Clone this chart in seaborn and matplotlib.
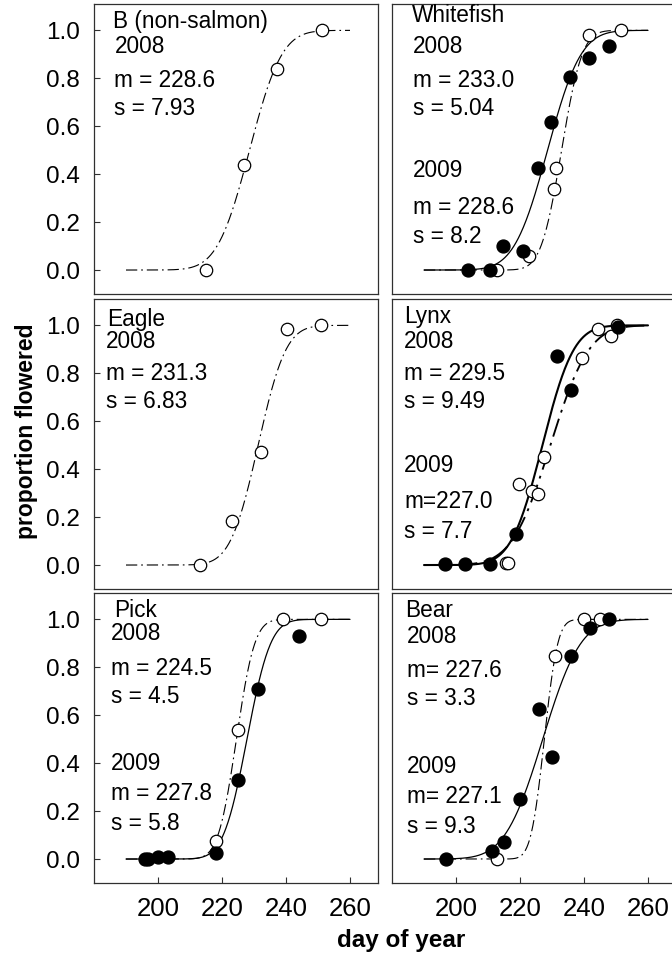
import math
import numpy as np
import pandas as pd
import matplotlib
matplotlib.use("Agg")
import matplotlib.pyplot as plt
import seaborn as sns

# ---- observed cumulative flowering (day of year, proportion flowered) ----
b_2008_day = [215.0, 226.9, 237.1, 251.1]
b_2008_prop = [0.0, 0.44, 0.837, 1.0]

whitefish_2008_day = [212.7, 222.9, 230.6, 231.3, 241.7, 251.5]
whitefish_2008_prop = [0.0, 0.057, 0.34, 0.426, 0.98, 1.0]
whitefish_2009_day = [203.9, 210.6, 214.8, 220.8, 225.7, 229.7, 235.6, 241.7, 247.9]
whitefish_2009_prop = [0.0, 0.0, 0.099, 0.078, 0.426, 0.618, 0.806, 0.886, 0.935]

eagle_2008_day = [213.1, 223.0, 232.1, 240.2, 250.9]
eagle_2008_prop = [0.0, 0.185, 0.47, 0.985, 1.0]

lynx_2008_day = [215.6, 216.3, 219.8, 223.7, 225.7, 227.6, 239.3, 244.5, 248.4, 250.4]
lynx_2008_prop = [0.01, 0.01, 0.34, 0.31, 0.296, 0.449, 0.865, 0.983, 0.955, 1.0]
lynx_2009_day = [196.6, 202.8, 210.6, 218.75, 231.5, 235.8, 250.7]
lynx_2009_prop = [0.005, 0.005, 0.005, 0.129, 0.872, 0.73, 0.995]

pick_2008_day = [218.1, 225.1, 239.0, 250.8]
pick_2008_prop = [0.076, 0.537, 1.0, 1.0]
pick_2009_day = [196.0, 197.0, 199.9, 203.2, 218.0, 225.1, 231.4, 244.1]
pick_2009_prop = [0.0, 0.0, 0.008, 0.01, 0.024, 0.33, 0.71, 0.93]

bear_2008_day = [212.9, 230.9, 240.0, 245.0]
bear_2008_prop = [0.0, 0.847, 1.0, 1.0]
bear_2009_day = [196.9, 211.1, 215.0, 220.0, 226.0, 229.9, 235.8, 241.9, 247.9]
bear_2009_prop = [0.0, 0.033, 0.072, 0.249, 0.624, 0.424, 0.847, 0.965, 1.0]

# ---- fitted cumulative-normal parameters (mean day m, spread s) ----
sites = ["B (non-salmon)", "Whitefish", "Eagle", "Lynx", "Pick", "Bear"]
fit_2008_m = [228.6, 233.0, 231.3, 229.5, 224.5, 227.6]
fit_2008_s = [7.93, 5.04, 6.83, 9.49, 4.5, 3.3]
fit_2009_m = [None, 228.6, None, 227.0, 227.8, 227.1]
fit_2009_s = [None, 8.2, None, 7.7, 5.8, 9.3]

label_2008_m = ["m = 228.6", "m = 233.0", "m = 231.3", "m = 229.5", "m = 224.5", "m= 227.6"]
label_2008_s = ["s = 7.93", "s = 5.04", "s = 6.83", "s = 9.49", "s = 4.5", "s = 3.3"]
label_2009_m = [None, "m = 228.6", None, "m=227.0", "m = 227.8", "m= 227.1"]
label_2009_s = [None, "s = 8.2", None, "s = 7.7", "s = 5.8", "s = 9.3"]

y_ticks = [0.0, 0.2, 0.4, 0.6, 0.8, 1.0]
y_ticklabels = ["0.0", "0.2", "0.4", "0.6", "0.8", "1.0"]
x_ticks = [200, 220, 240, 260]
x_ticklabels = ["200", "220", "240", "260"]

obs_2008 = [(b_2008_day, b_2008_prop), (whitefish_2008_day, whitefish_2008_prop),
            (eagle_2008_day, eagle_2008_prop), (lynx_2008_day, lynx_2008_prop),
            (pick_2008_day, pick_2008_prop), (bear_2008_day, bear_2008_prop)]
obs_2009 = [None, (whitefish_2009_day, whitefish_2009_prop), None,
            (lynx_2009_day, lynx_2009_prop), (pick_2009_day, pick_2009_prop),
            (bear_2009_day, bear_2009_prop)]

# ---- style ----
sns.set_theme(style="white")
plt.rcParams["font.family"] = ["Liberation Sans", "DejaVu Sans"]
plt.rcParams["axes.edgecolor"] = "#303030"
plt.rcParams["axes.linewidth"] = 0.9
plt.rcParams["xtick.color"] = "#303030"
plt.rcParams["ytick.color"] = "#303030"
plt.rcParams["xtick.labelcolor"] = "black"
plt.rcParams["ytick.labelcolor"] = "black"
plt.rcParams["text.color"] = "black"

W, H = 672, 957
fig = plt.figure(figsize=(W / 100, H / 100), dpi=100)

col_left = [94, 392]
col_width = 284
row_top = [4, 299, 593]
row_height = 290

# label line positions in figure pixels (x, baseline y)
text_pos = [
    [(113, 28), (115, 53), (114, 87), (114, 115)],
    [(412, 22), (413, 53), (413, 87), (413, 115), (413, 177), (413, 214), (413, 243)],
    [(107, 326), (106, 348), (106, 380), (106, 408)],
    [(404, 323), (404, 348), (404, 380), (404, 408), (404, 472), (404, 508), (404, 538)],
    [(114, 617), (111, 640), (111, 675), (111, 703), (111, 770), (111, 800), (111, 830)],
    [(405, 617), (407, 643), (407, 677), (407, 705), (407, 773), (407, 803), (407, 833)],
]

curve_day = np.linspace(190, 260, 400)


def norm_cdf(x, m, s):
    return np.array([0.5 * (1.0 + math.erf((v - m) / (s * math.sqrt(2.0)))) for v in x])


dashdot = (0, (10, 3.5, 1.5, 3.5))

for i, site in enumerate(sites):
    r, c = divmod(i, 2)
    x0 = col_left[c] / W
    y0 = 1 - (row_top[r] + row_height) / H
    ax = fig.add_axes([x0, y0, col_width / W, row_height / H])
    lw = 1.5 if site == "Lynx" else 0.9

    # fitted curves
    fit08 = pd.DataFrame({"day": curve_day,
                          "prop": norm_cdf(curve_day, fit_2008_m[i], fit_2008_s[i])})
    sns.lineplot(data=fit08, x="day", y="prop", ax=ax, color="black",
                 linewidth=lw * 0.9, linestyle=dashdot, zorder=2)
    if fit_2009_m[i] is not None:
        fit09 = pd.DataFrame({"day": curve_day,
                              "prop": norm_cdf(curve_day, fit_2009_m[i], fit_2009_s[i])})
        sns.lineplot(data=fit09, x="day", y="prop", ax=ax, color="black",
                     linewidth=lw, zorder=2)

    # observations: 2008 open, 2009 filled
    d08, p08 = obs_2008[i]
    sns.scatterplot(x=d08, y=p08, ax=ax, marker="o", s=80, color="white",
                    edgecolor="black", linewidth=0.9, zorder=3)
    if obs_2009[i] is not None:
        d09, p09 = obs_2009[i]
        sns.scatterplot(x=d09, y=p09, ax=ax, marker="o", s=88, color="black",
                        edgecolor="black", linewidth=0.9, zorder=4)

    ax.set_xlim(180, 268.75)
    ax.set_ylim(-0.1, 1.11)
    ax.set_xlabel("")
    ax.set_ylabel("")

    ax.tick_params(direction="in", length=4, width=0.8, pad=10,
                   bottom=(r == 2), left=(c == 0), top=False, right=False)
    if c == 0:
        ax.set_yticks(y_ticks)
        ax.set_yticklabels(y_ticklabels, fontsize=17.5)
    else:
        ax.set_yticks([])
    if r == 2:
        ax.set_xticks(x_ticks)
        ax.set_xticklabels(x_ticklabels, fontsize=18.5)
    else:
        ax.set_xticks([])

    # panel text
    lines = [site, "2008", label_2008_m[i], label_2008_s[i]]
    if label_2009_m[i] is not None:
        lines += ["2009", label_2009_m[i], label_2009_s[i]]
    for txt, (px, py) in zip(lines, text_pos[i]):
        fig.text(px / W, 1 - py / H, txt, ha="left", va="baseline",
                 fontsize=16.3, color="black")

fig.text(27 / W, 1 - 431 / H, "proportion flowered", rotation=90, ha="center",
         va="center", fontsize=16.5, fontweight="bold")
fig.text(401 / W, 1 - 947 / H, "day of year", ha="center", va="baseline",
         fontsize=17.5, fontweight="bold")

fig.savefig("out.png", dpi=100, facecolor="white")
